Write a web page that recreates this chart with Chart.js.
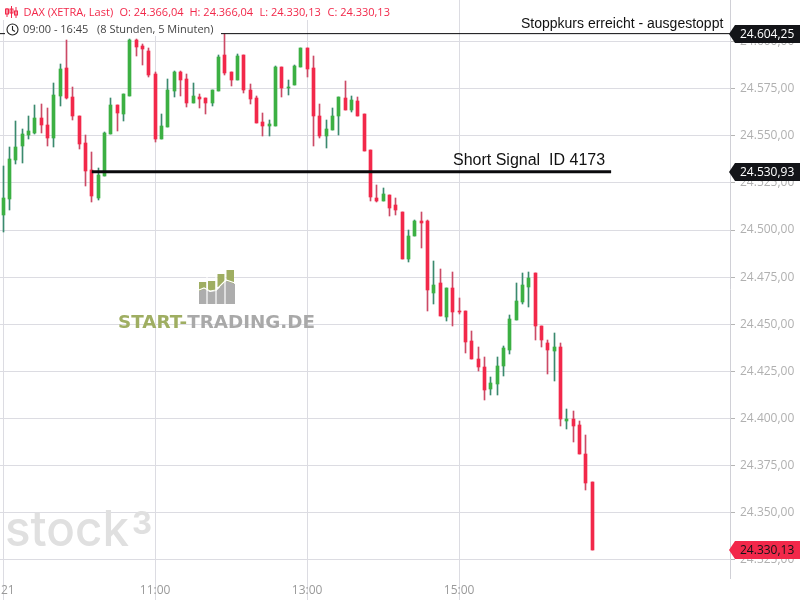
<!DOCTYPE html>
<html><head><meta charset="utf-8">
<style>html,body{margin:0;padding:0;background:#fff}#w{width:800px;height:600px}</style>
<script src="https://cdn.jsdelivr.net/npm/chart.js@4"></script>
</head><body><div id="w"><canvas id="c" width="800" height="600"></canvas></div>
<script>
const open=[24507.8,24516.3,24537.0,24544.4,24550.2,24551.3,24559.3,24555.5,24548.6,24570.9,24585.8,24570.4,24560.8,24546.0,24531.7,24516.8,24528.5,24550.8,24566.2,24561.4,24570.9,24600.7,24597.5,24595.3,24582.6,24548.1,24554.5,24573.6,24583.7,24580.0,24567.2,24570.4,24569.9,24567.7,24573.6,24592.7,24583.7,24579.4,24592.7,24574.6,24569.9,24557.1,24555.0,24555.0,24586.3,24575.2,24576.8,24586.3,24596.4,24585.8,24560.8,24549.7,24552.9,24560.3,24569.9,24563.5,24568.3,24561.4,24542.3,24516.8,24515.2,24518.4,24513.1,24509.4,24484.4,24496.6,24504.6,24504.6,24466.4,24471.7,24453.6,24469.0,24456.8,24456.8,24440.9,24431.3,24427.1,24415.4,24418.1,24427.6,24436.6,24452.0,24461.6,24469.6,24477.0,24448.9,24439.8,24435.6,24437.7,24398.4,24399.5,24396.3,24381.4,24366.04];
const high=[24533.8,24544.0,24557.7,24553.9,24560.8,24566.2,24566.7,24564.6,24577.8,24587.9,24600.7,24575.7,24560.8,24550.2,24541.2,24532.7,24551.8,24569.9,24566.2,24572.0,24601.2,24601.2,24598.5,24596.4,24583.7,24561.4,24580.0,24584.2,24584.2,24582.6,24577.8,24572.0,24569.9,24574.1,24592.7,24604.2,24583.7,24593.2,24592.7,24577.3,24570.9,24561.9,24558.2,24586.9,24586.3,24579.4,24587.4,24596.4,24596.4,24592.2,24566.7,24558.2,24564.6,24570.4,24578.9,24570.9,24570.4,24561.4,24542.3,24523.7,24522.1,24518.4,24516.8,24509.4,24499.8,24505.1,24509.4,24505.6,24483.4,24479.1,24469.0,24477.5,24464.2,24456.8,24446.2,24437.7,24432.4,24421.8,24432.4,24438.2,24454.7,24471.7,24477.0,24478.0,24477.0,24448.9,24441.4,24445.1,24439.8,24404.8,24403.7,24398.4,24391.0,24366.04];
const low=[24498.9,24510.4,24534.8,24535.4,24548.1,24550.8,24551.3,24544.4,24543.9,24565.6,24569.3,24558.2,24542.8,24523.2,24514.7,24515.7,24528.5,24550.8,24552.4,24557.7,24570.9,24592.2,24587.4,24581.5,24546.5,24548.1,24554.5,24570.4,24570.9,24565.1,24567.2,24564.6,24561.4,24565.6,24573.6,24582.1,24576.2,24579.4,24572.5,24566.7,24556.6,24549.7,24549.7,24555.0,24570.4,24571.5,24576.8,24586.3,24581.5,24544.4,24548.6,24543.3,24552.9,24550.2,24563.5,24562.4,24560.3,24541.7,24515.2,24514.7,24515.2,24507.2,24507.8,24484.4,24482.8,24496.6,24490.3,24457.3,24460.5,24454.2,24451.5,24448.9,24455.2,24434.5,24431.3,24425.0,24409.6,24412.2,24412.2,24422.3,24434.0,24452.0,24460.5,24458.9,24441.4,24437.7,24423.4,24419.7,24395.8,24394.2,24387.3,24380.9,24361.8,24330.13];
const close=[24516.8,24537.5,24543.9,24550.8,24552.4,24559.3,24555.5,24548.6,24571.5,24585.3,24569.9,24560.3,24545.5,24531.1,24517.9,24529.0,24551.3,24566.2,24561.9,24572.0,24600.7,24596.9,24595.9,24582.1,24548.1,24555.0,24574.1,24583.7,24579.4,24567.2,24570.9,24569.3,24567.7,24574.1,24591.6,24583.1,24579.4,24592.2,24574.1,24569.3,24556.6,24555.0,24556.1,24586.3,24575.2,24575.7,24586.9,24596.4,24585.3,24560.3,24549.7,24553.9,24560.3,24570.4,24563.5,24568.8,24560.8,24541.7,24517.3,24515.2,24519.4,24511.5,24510.4,24484.4,24496.6,24504.6,24503.5,24468.0,24471.1,24454.2,24469.0,24456.3,24456.3,24440.4,24431.3,24427.1,24414.9,24418.6,24428.1,24437.2,24452.6,24462.1,24470.6,24474.3,24448.9,24441.4,24436.1,24437.7,24399.5,24399.5,24395.8,24380.9,24365.5,24330.13];
const xTickIndexes=[0,24,48,72];
const xTickLabels=['21','11:00','13:00','15:00'];
const stopLevel=24604.25, signalLevel=24530.93, lastClose=24330.13;
const signalStart=14, signalEnd=96;
const stopText='Stoppkurs erreicht - ausgestoppt', signalText='Short Signal  ID 4173';
const headerTop=['DAX (XETRA, Last)','O: 24.366,04','H: 24.366,04','L: 24.330,13','C: 24.330,13'];
const headerBottom=['09:00 - 16:45','(8 Stunden, 5 Minuten)'];

const RED='#f2284a',GREEN='#3cb043',WRED='#cc4a66',WGREEN='#3a8a6e',GRID='#dcdce2',UI='"Open Sans"';
const fmt=v=>v.toLocaleString('de-DE',{minimumFractionDigits:2,maximumFractionDigits:2});
const up=i=>close[i]>=open[i];

const snap={id:'snap',beforeDatasetsDraw(ch){
  ch.data.datasets.forEach((d,di)=>{ if(d.type!=='bar')return;
    ch.getDatasetMeta(di).data.forEach(el=>{
      el.x=Math.floor(el.x)+0.5;
      let a=Math.round(el.y),b=Math.round(el.base);
      if(a===b)b=a+1;
      el.y=a;el.base=b;
    });
  });
}};

function tag(ctx,y,bg,fg,label){
  y=Math.round(y);
  ctx.fillStyle=bg;ctx.beginPath();
  ctx.moveTo(729,y);ctx.lineTo(735,y-9);ctx.lineTo(800,y-9);ctx.lineTo(800,y+9);ctx.lineTo(735,y+9);ctx.closePath();ctx.fill();
  ctx.fillStyle=fg;ctx.font='12px '+UI;ctx.textAlign='left';ctx.textBaseline='middle';
  ctx.fillText(label,740,y+0.5);
}
const deco={id:'deco',afterDraw(ch){
  const ctx=ch.ctx,ys=ch.scales.y;
  ctx.save();
  // watermark stock3
  ctx.fillStyle='#e0e0e0';ctx.textAlign='left';ctx.textBaseline='alphabetic';
  ctx.font='500 49px Inter';ctx.save();
  const sw=ctx.measureText('stock').width;ctx.translate(5,546);ctx.scale(124/sw,1);ctx.fillText('stock',0,0);ctx.restore();
  ctx.font='700 31px Inter';ctx.fillText('3',132,534);
  // logo
  ctx.fillStyle='#9fae62';
  [[199,282,7.5,10],[208,281,7.5,10],[217.5,274,7.5,13],[226.5,270,7.5,17]].forEach(r=>ctx.fillRect(r[0],r[1],r[2],r[3]));
  ctx.fillStyle='#adadad';
  ctx.beginPath();ctx.moveTo(199,291);ctx.lineTo(204,289);ctx.lineTo(210,292);ctx.lineTo(216,291);ctx.lineTo(226,281);ctx.lineTo(235,284);ctx.lineTo(235,304);ctx.lineTo(199,304);ctx.closePath();ctx.fill();
  ctx.strokeStyle='#fff';ctx.lineWidth=1.2;
  [207,216,225].forEach(x=>{ctx.beginPath();ctx.moveTo(x,270);ctx.lineTo(x,304);ctx.stroke();});
  ctx.beginPath();ctx.moveTo(199,290);ctx.lineTo(204,288);ctx.lineTo(210,291);ctx.lineTo(216,290);ctx.lineTo(226,280);ctx.lineTo(235,283);ctx.stroke();
  ctx.font='600 20px "DejaVu Sans"';ctx.save();
  const a='START-',b='TRADING.DE',wa=ctx.measureText(a).width,wb=ctx.measureText(b).width;
  ctx.translate(118,328);ctx.scale(197/(wa+wb),0.9);
  ctx.fillStyle='#9fae62';ctx.fillText(a,0,0);ctx.fillStyle='#a9a9a9';ctx.fillText(b,wa,0);ctx.restore();
  // header masks
  ctx.fillStyle='#fff';ctx.fillRect(0,0,392,20);ctx.fillRect(5,20,216,16);
  // header icon candle
  ctx.strokeStyle=RED;ctx.lineWidth=1;
  [[7,10,16,9,14],[11.5,8,17,9,13],[16,9,17,11,15]].forEach(c=>{
    ctx.beginPath();ctx.moveTo(c[0],c[1]-2);ctx.lineTo(c[0],c[2]+1);ctx.stroke();
    ctx.strokeRect(c[0]-1.5,c[3],3,c[4]-c[3]);
  });
  // clock
  ctx.strokeStyle='#222';ctx.lineWidth=1.1;ctx.beginPath();ctx.arc(12.5,29.5,5.5,0,Math.PI*2);ctx.stroke();
  ctx.beginPath();ctx.moveTo(12.5,26);ctx.lineTo(12.5,30);ctx.lineTo(15,31.5);ctx.stroke();
  // header text
  ctx.font='11px '+UI;ctx.textBaseline='middle';ctx.fillStyle=RED;
  [23.5,119.5,189.5,259.5,327.5].forEach((x,i)=>ctx.fillText(headerTop[i],x,13));
  ctx.fillStyle='#444';
  [23,97].forEach((x,i)=>ctx.fillText(headerBottom[i],x,29.5));
  // annotation text
  ctx.fillStyle='#111';ctx.textBaseline='alphabetic';
  ctx.font='14px "Liberation Sans"';ctx.fillText(stopText,521,28);
  ctx.font='16px "Liberation Sans"';ctx.fillText(signalText,453,165);
  // price tags
  tag(ctx,ys.getPixelForValue(stopLevel),'#131418','#fff',fmt(stopLevel));
  tag(ctx,ys.getPixelForValue(signalLevel),'#131418','#fff',fmt(signalLevel));
  tag(ctx,ys.getPixelForValue(lastClose),RED,'#131418',fmt(lastClose));
  ctx.restore();
}};

new Chart(document.getElementById('c'),{
  data:{datasets:[
    {type:'line',order:0,data:[{x:signalStart,y:signalLevel},{x:signalEnd,y:signalLevel}],borderColor:'#0a0a0c',borderWidth:3,pointRadius:0},
    {type:'line',order:1,data:[{x:-1,y:stopLevel},{x:120,y:stopLevel}],borderColor:'#0a0a0c',borderWidth:1,pointRadius:0},
    {type:'bar',order:2,grouped:false,maxBarThickness:3,barThickness:3,
      data:open.map((o,i)=>({x:i,y:[o,close[i]]})),backgroundColor:c=>up(c.dataIndex)?GREEN:RED},
    {type:'bar',order:3,grouped:false,maxBarThickness:1,barThickness:1,
      data:high.map((h,i)=>({x:i,y:[low[i],h]})),backgroundColor:c=>up(c.dataIndex)?WGREEN:WRED}
  ]},
  options:{
    responsive:false,animation:false,events:[],
    layout:{padding:0},
    plugins:{legend:{display:false},tooltip:{enabled:false}},
    scales:{
      x:{type:'linear',offset:false,min:-0.49,max:114.77,
        afterBuildTicks:s=>{s.ticks=xTickIndexes.map(v=>({value:v}));},
        afterFit:s=>{s.height=22;s.paddingLeft=0;s.paddingRight=0;},
        border:{display:false},
        grid:{offset:false,color:GRID,tickColor:GRID,tickLength:22,lineWidth:1},
        ticks:{autoSkip:false,maxRotation:0,padding:-17,color:'#9a9a9a',font:{family:'Open Sans',size:12},
          callback:v=>{const i=xTickIndexes.indexOf(v),t=xTickLabels[i];return i===0?'   '+t:t;}}
      },
      y:{type:'linear',position:'right',min:24315.32,max:24622.11,
        afterFit:s=>{s.width=70;s.paddingTop=0;s.paddingBottom=0;},
        border:{display:true,color:'#d0d0d6',width:1},
        grid:{color:GRID,tickColor:'#b5b5b5',tickLength:5,lineWidth:1},
        ticks:{stepSize:25,includeBounds:false,padding:5,color:'#b0b0b0',font:{family:'Open Sans',size:12},callback:v=>fmt(v)}
      }
    }
  },
  plugins:[snap,deco]
});
</script></body></html>
